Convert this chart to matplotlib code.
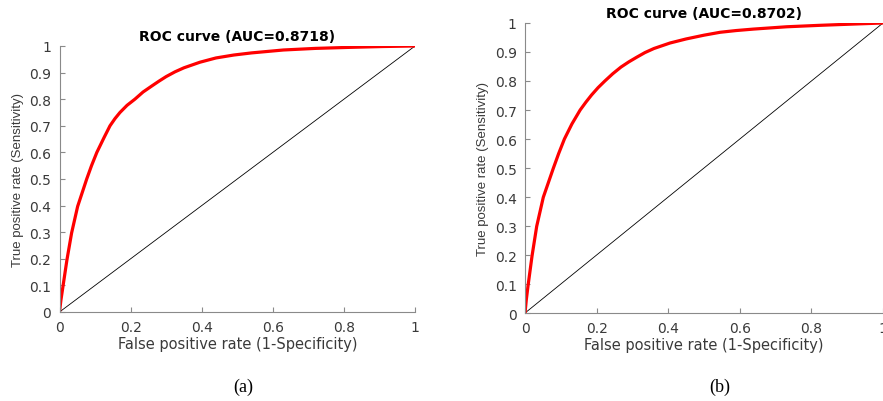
import matplotlib
matplotlib.use("Agg")
import matplotlib.pyplot as plt

# ROC points
fpr_a = [0, 0.004, 0.0098, 0.021, 0.034, 0.051, 0.0765, 0.09, 0.105, 0.125, 0.142,
         0.156, 0.170, 0.19, 0.212, 0.235, 0.26, 0.28, 0.30, 0.325, 0.35, 0.395,
         0.44, 0.49, 0.54, 0.63, 0.72, 0.82, 0.91, 1.0]
tpr_a = [0, 0.045, 0.097, 0.197, 0.297, 0.397, 0.5, 0.55, 0.6, 0.655, 0.7,
         0.727, 0.75, 0.777, 0.8, 0.827, 0.85, 0.868, 0.885, 0.903, 0.918, 0.939,
         0.955, 0.966, 0.974, 0.985, 0.991, 0.995, 0.998, 1.0]

fpr_b = [0, 0.0035, 0.0084, 0.0196, 0.0326, 0.051, 0.079, 0.094, 0.110, 0.131, 0.154,
         0.17, 0.186, 0.204, 0.223, 0.245, 0.268, 0.29, 0.312, 0.335, 0.36, 0.405,
         0.45, 0.50, 0.545, 0.59, 0.638, 0.731, 0.824, 0.91, 1.0]
tpr_b = [0, 0.045, 0.094, 0.197, 0.299, 0.399, 0.499, 0.55, 0.6, 0.652, 0.70,
         0.727, 0.752, 0.777, 0.80, 0.825, 0.848, 0.866, 0.882, 0.898, 0.912, 0.931,
         0.945, 0.958, 0.968, 0.974, 0.979, 0.987, 0.992, 0.996, 1.0]

auc_a = 0.8718
auc_b = 0.8702

xticks = [0, 0.2, 0.4, 0.6, 0.8, 1]
xlabels = ["0", "0.2", "0.4", "0.6", "0.8", "1"]
yticks = [0, 0.1, 0.2, 0.3, 0.4, 0.5, 0.6, 0.7, 0.8, 0.9, 1]
ylabels = ["0", "0.1", "0.2", "0.3", "0.4", "0.5", "0.6", "0.7", "0.8", "0.9", "1"]

plt.rcParams['font.family'] = ['DejaVu Sans']

fig = plt.figure(figsize=(8.83, 4.02), dpi=100)
ax1 = fig.add_axes([0.0674, 0.2214, 0.4026, 0.6617])
ax2 = fig.add_axes([0.5946, 0.2189, 0.4054, 0.7214])

gray = "#8a8a8a"
txt = "#3a3a3a"

def roc(ax, fpr, tpr, auc, tag, tag_x):
    ax.plot([0, 1], [0, 1], color="black", lw=0.6)
    ax.plot(fpr, tpr, color="red", lw=2.3, solid_capstyle="round",
            solid_joinstyle="round")
    ax.set_xlim(0, 1)
    ax.set_ylim(0, 1)
    ax.set_xticks(xticks)
    ax.set_xticklabels(xlabels)
    ax.set_yticks(yticks)
    ax.set_yticklabels(ylabels)
    ax.tick_params(direction="in", length=3.5, width=0.8, colors=gray,
                   labelcolor=txt, labelsize=10)
    ax.tick_params(axis="y", pad=6)
    ax.tick_params(axis="x", pad=5.5)
    for s in ["top", "right"]:
        ax.spines[s].set_visible(False)
    for s in ["left", "bottom"]:
        ax.spines[s].set_color(gray)
        ax.spines[s].set_linewidth(0.8)
    ax.set_xlabel("False positive rate (1-Specificity)", fontsize=10.5,
                  color=txt, labelpad=2)
    ax.set_ylabel("True positive rate (Sensitivity)", fontsize=9.5,
                  family="Liberation Sans", color=txt, labelpad=4)
    ax.set_title("ROC curve (AUC=%.4f)" % auc, fontsize=10, fontweight="bold", pad=4)
    fig.text(tag_x, 1 - 387 / 402, tag, family="Liberation Serif", fontsize=13,
             ha="center", va="center")

roc(ax1, fpr_a, tpr_a, auc_a, "(a)", 243 / 883)
roc(ax2, fpr_b, tpr_b, auc_b, "(b)", 720 / 883)

fig.savefig("out.png", dpi=100)
